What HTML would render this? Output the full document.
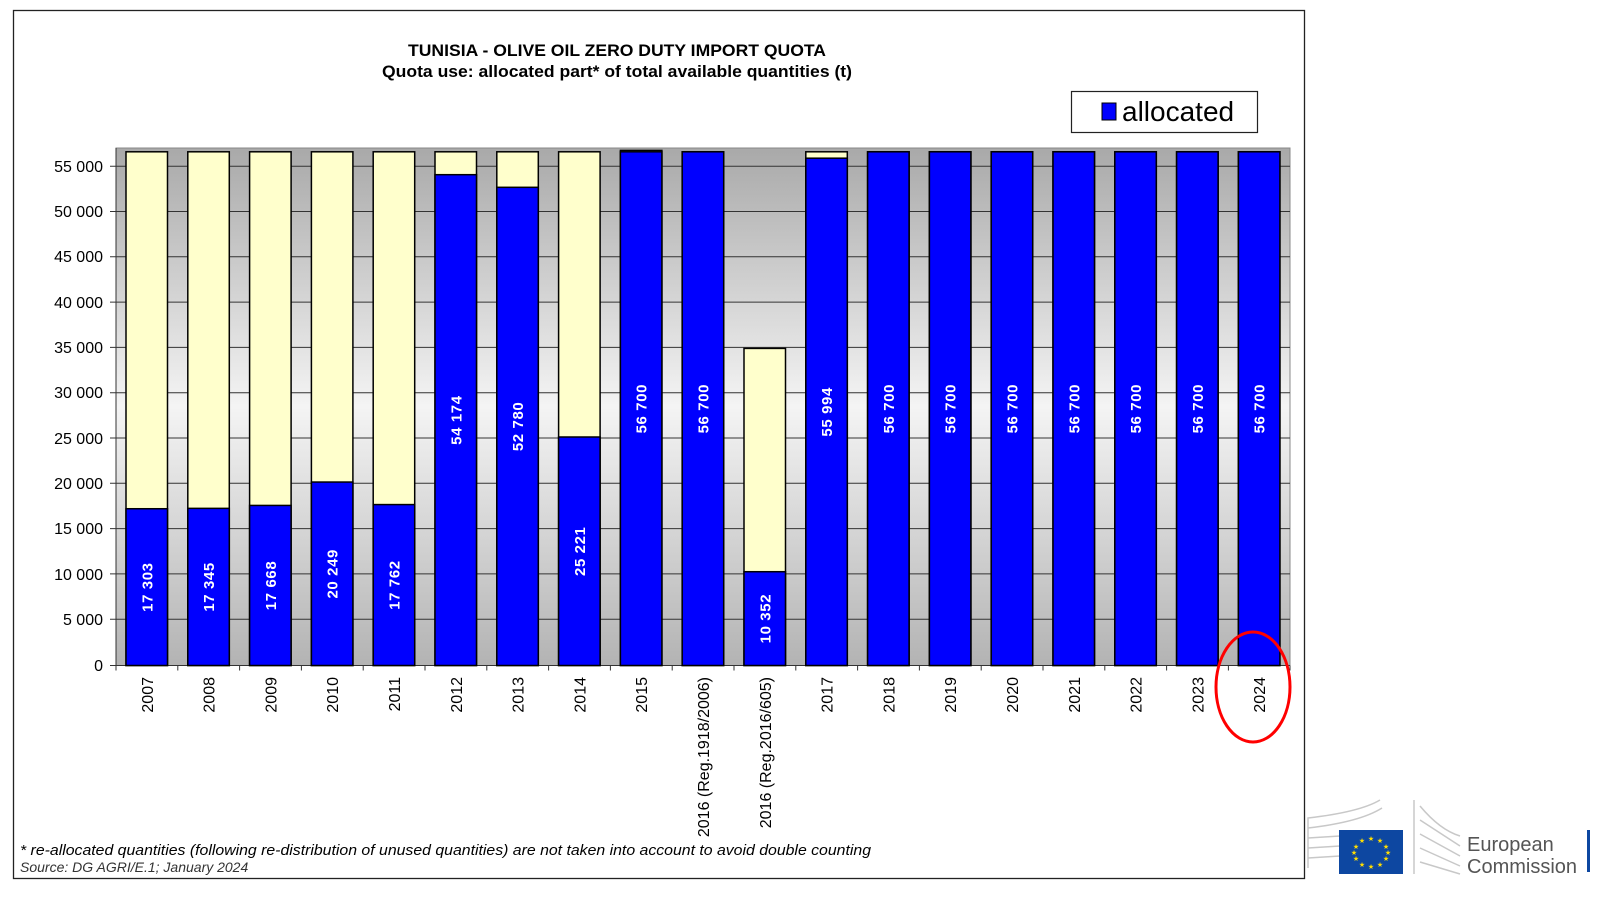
<!DOCTYPE html>
<html><head><meta charset="utf-8"><style>
html,body{margin:0;padding:0;background:#fff;}
svg{display:block;font-family:"Liberation Sans",Arial,sans-serif;}
</style></head><body>
<svg width="1613" height="903" viewBox="0 0 1613 903" xmlns="http://www.w3.org/2000/svg">
<defs>
<linearGradient id="bg" x1="0" y1="0" x2="0" y2="1">
<stop offset="0" stop-color="#a9a9a9"/>
<stop offset="0.5" stop-color="#f4f4f4"/>
<stop offset="1" stop-color="#b3b3b3"/>
</linearGradient>
</defs>
<rect x="13.5" y="10.5" width="1291" height="868" fill="#fff" stroke="#222" stroke-width="1.3"/>
<text x="617" y="56" text-anchor="middle" font-size="16.5" font-weight="bold" textLength="418" lengthAdjust="spacingAndGlyphs">TUNISIA  - OLIVE OIL ZERO DUTY IMPORT QUOTA</text>
<text x="617" y="77" text-anchor="middle" font-size="16.5" font-weight="bold" textLength="470" lengthAdjust="spacingAndGlyphs">Quota use: allocated part* of total available quantities (t)</text>
<rect x="1071.5" y="91.5" width="186" height="41" fill="#fff" stroke="#222" stroke-width="1.2"/>
<rect x="1102" y="103" width="14" height="17" fill="#0000ff" stroke="#000"/>
<text x="1122" y="121" font-size="28">allocated</text>
<rect x="116" y="148" width="1174" height="517.5" fill="url(#bg)" stroke="#888"/>
<g stroke="#333" stroke-width="1">
<line x1="110" y1="166.2" x2="1290" y2="166.2"/><line x1="110" y1="211.5" x2="1290" y2="211.5"/>
<line x1="110" y1="256.8" x2="1290" y2="256.8"/><line x1="110" y1="302.1" x2="1290" y2="302.1"/>
<line x1="110" y1="347.4" x2="1290" y2="347.4"/><line x1="110" y1="392.7" x2="1290" y2="392.7"/>
<line x1="110" y1="438" x2="1290" y2="438"/><line x1="110" y1="483.3" x2="1290" y2="483.3"/>
<line x1="110" y1="528.6" x2="1290" y2="528.6"/><line x1="110" y1="573.9" x2="1290" y2="573.9"/>
<line x1="110" y1="619.2" x2="1290" y2="619.2"/>
<line x1="110" y1="665.5" x2="1290" y2="665.5"/>
<line x1="116" y1="148" x2="116" y2="665.5"/>
</g>
<g font-size="16" text-anchor="end">
<text x="103" y="172">55 000</text><text x="103" y="217">50 000</text><text x="103" y="262">45 000</text>
<text x="103" y="308">40 000</text><text x="103" y="353">35 000</text><text x="103" y="398">30 000</text>
<text x="103" y="444">25 000</text><text x="103" y="489">20 000</text><text x="103" y="534">15 000</text>
<text x="103" y="580">10 000</text><text x="103" y="625">5 000</text><text x="103" y="671">0</text>
</g>
<g id="bars" stroke="#000" stroke-width="1.5"></g>
<g id="labels"></g>
<ellipse cx="1253" cy="687" rx="37" ry="55" fill="none" stroke="#ff0000" stroke-width="3"/>
<text x="20" y="855" font-size="15" font-style="italic" textLength="851" lengthAdjust="spacingAndGlyphs">* re-allocated quantities (following re-distribution of unused quantities) are not taken into account to avoid double counting</text>
<text x="20" y="872" font-size="14" font-style="italic" fill="#333">Source: DG AGRI/E.1;  January 2024</text>
<g stroke="#c8c8c8" stroke-width="1.5" fill="none">
<path d="M1308 868 L1308 818 Q1360 812 1380 800"/><path d="M1308 858 L1340 856"/><path d="M1308 848 L1340 846"/><path d="M1308 838 L1340 836"/><path d="M1308 828 Q1360 822 1382 808"/>
<path d="M1414 800 L1414 874"/><path d="M1420 806 Q1440 830 1460 836"/><path d="M1420 820 L1460 846"/><path d="M1420 834 L1460 856"/><path d="M1420 848 L1460 866"/><path d="M1420 862 L1460 874"/>
</g>
<rect x="1339" y="830" width="64" height="44" fill="#0d47a1"/>
<g fill="#ffdd00" font-size="7" text-anchor="middle">
<text x="1371" y="841">★</text><text x="1380" y="843">★</text><text x="1386" y="849">★</text><text x="1388" y="855">★</text><text x="1386" y="861">★</text><text x="1380" y="867">★</text><text x="1371" y="869">★</text><text x="1362" y="867">★</text><text x="1356" y="861">★</text><text x="1354" y="855">★</text><text x="1356" y="849">★</text><text x="1362" y="843">★</text>
</g>
<text x="1467" y="851" font-size="20" fill="#555">European</text>
<text x="1467" y="873" font-size="20" fill="#555">Commission</text>
<rect x="1587" y="830" width="3" height="42" fill="#0d47a1"/>
<script>
(function(){
var cats=["2007","2008","2009","2010","2011","2012","2013","2014","2015","2016 (Reg.1918/2006)","2016 (Reg.2016/605)","2017","2018","2019","2020","2021","2022","2023","2024"];
var blue=[17303,17345,17668,20249,17762,54174,52780,25221,56700,56700,10352,55994,56700,56700,56700,56700,56700,56700,56700];
var tot=[56700,56700,56700,56700,56700,56700,56700,56700,56850,56700,35000,56700,56700,56700,56700,56700,56700,56700,56700];
var ns="http://www.w3.org/2000/svg",g=document.getElementById("bars"),L=document.getElementById("labels");
var z=665.5,k=0.00906,w=61.8;
function fmt(v){var s=String(v);return s.length>3?s.slice(0,s.length-3)+" "+s.slice(-3):s;}
function el(t,a,p){var e=document.createElementNS(ns,t);for(var q in a)e.setAttribute(q,a[q]);p.appendChild(e);return e;}
for(var i=0;i<19;i++){
 var x0=116+i*w,bx=x0+10,bw=41.5;
 var yt=z-tot[i]*k,yb=z-blue[i]*k;
 el("rect",{x:bx,y:yt,width:bw,height:z-yt,fill:"#ffffcc"},g);
 el("rect",{x:bx,y:yb,width:bw,height:z-yb,fill:"#0000ff"},g);
 el("line",{x1:x0,y1:z,x2:x0,y2:z+5,stroke:"#333"},L);
 var cx=bx+bw/2,cy=(yb+z)/2;
 var t=el("text",{x:0,y:0,transform:"translate("+(cx+5.5)+","+cy+") rotate(-90)","text-anchor":"middle","font-size":"15","font-weight":"bold",fill:"#fff","letter-spacing":"0.6"},L);
 t.textContent=fmt(blue[i]);
 var c=el("text",{x:0,y:0,transform:"translate("+(cx+6)+",677) rotate(-90)","text-anchor":"end","font-size":"16",fill:"#000"},L);
 c.textContent=cats[i];
}
el("line",{x1:1290,y1:z,x2:1290,y2:z+5,stroke:"#333"},L);
})();
</script>
</svg>
</body></html>
